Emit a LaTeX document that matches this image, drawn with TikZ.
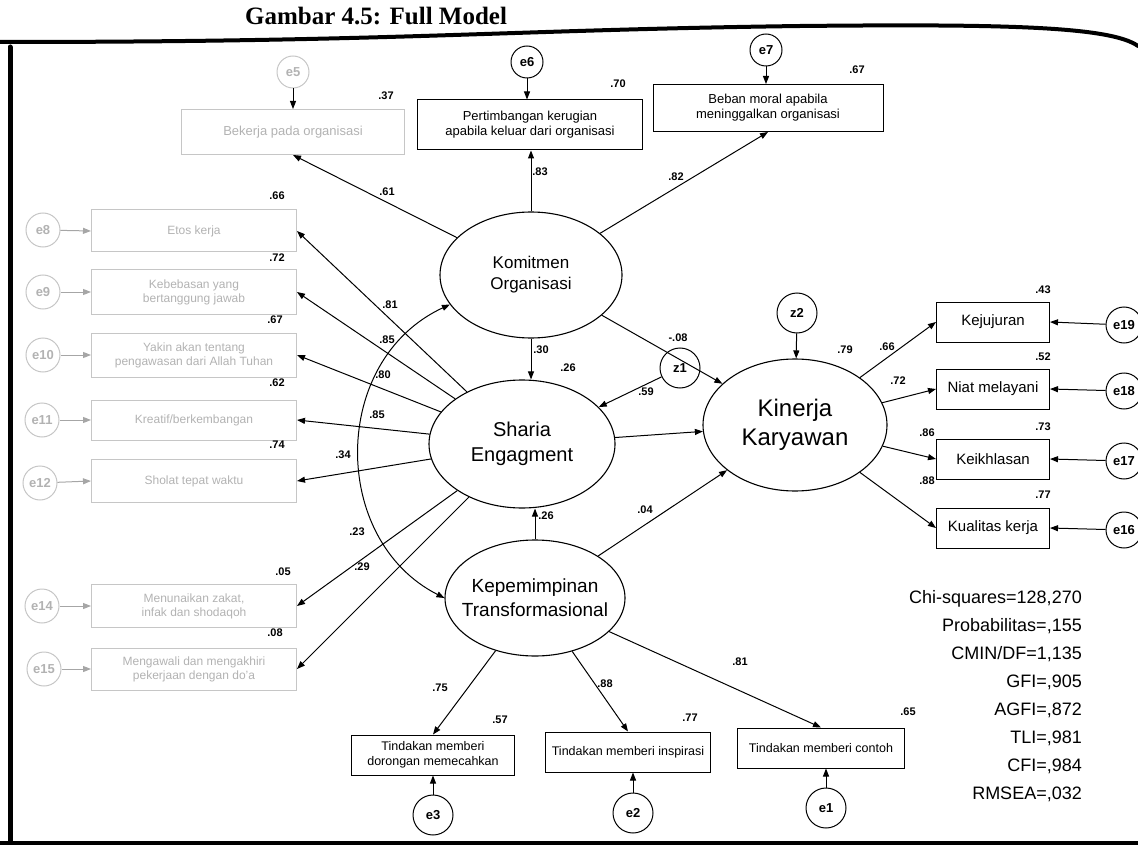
\documentclass[tikz,border=0pt]{standalone}
\usepackage{fontspec}
\setmainfont{Liberation Sans}
\newfontfamily\titlefont{Liberation Serif}
\usetikzlibrary{shapes.geometric,arrows.meta,calc}

\tikzset{
  arr/.style={-{Triangle[length=8pt,width=6pt]}, line width=1pt},
  dbl/.style={{Triangle[length=8pt,width=6pt]}-{Triangle[length=8pt,width=6pt]}, line width=1pt},
  latent/.style={ellipse, draw, line width=1.1pt, inner sep=0pt},
  ltext/.style={align=center, inner sep=0pt},
  obs/.style={rectangle, draw, line width=1pt, align=center, inner sep=2pt},
  faint/.style={draw=gray!45, text=gray!60},
  err/.style={circle, draw, line width=1pt, minimum size=36pt, inner sep=0pt,
              font=\fontsize{13}{13}\selectfont\bfseries},
  val/.style={font=\fontsize{11}{11}\selectfont\bfseries, inner sep=1pt},
  frame/.style={line width=4pt, line cap=round},
}

\begin{document}
\begin{tikzpicture}[x=1pt,y=-1pt]
\useasboundingbox (0,0) rectangle (1138,845);

% page edges and heading
\node[font=\titlefont\bfseries\fontsize{25}{25}\selectfont, anchor=west, inner sep=0pt] (title) at (245,16) {Gambar 4.5: Full Model};
\draw[frame] (0,42) .. controls (400,42) and (500,30) .. (800,26) .. controls (1000,24) and (1110,26) .. (1138,46);
\draw[frame, line width=5pt] (10,47) -- (10,845);
\draw[frame] (0,843) -- (1138,843);

% latent variables
\node[latent, minimum width=182pt, minimum height=126pt] (kom) at (531,275) {};
\node[ltext, font=\fontsize{17}{21}\selectfont] (komT) at (kom) {Komitmen\\Organisasi};
\node[latent, minimum width=186pt, minimum height=128pt] (sh) at (522,444) {};
\node[ltext, font=\fontsize{20}{25}\selectfont] (shT) at (sh) {Sharia\\Engagment};
\node[latent, minimum width=184pt, minimum height=132pt] (kin) at (795,425) {};
\node[ltext, font=\fontsize{24}{29}\selectfont] (kinT) at (kin) {Kinerja\\Karyawan};
\node[latent, minimum width=180pt, minimum height=116pt] (kep) at (535,598) {};
\node[ltext, font=\fontsize{19}{24}\selectfont] (kepT) at (kep) {Kepemimpinan\\Transformasional};

% disturbances
\node[err, minimum size=40pt] (z1) at (680,368) {z1};
\node[err, minimum size=40pt] (z2) at (797,313) {z2};

% indicators of Komitmen Organisasi
\node[obs, faint, minimum width=223pt, minimum height=45pt, font=\fontsize{13}{15}\selectfont] (b5) at (293,132) {Bekerja pada organisasi};
\node[obs, minimum width=225pt, minimum height=50pt, font=\fontsize{13}{15}\selectfont] (b6) at (530,125) {Pertimbangan kerugian\\apabila keluar dari organisasi};
\node[obs, minimum width=230pt, minimum height=47pt, font=\fontsize{13}{15}\selectfont] (b7) at (768,108) {Beban moral apabila\\meninggalkan organisasi};
\node[err, faint, minimum size=32pt] (e5) at (293,72) {e5};
\node[err, minimum size=32pt] (e6) at (527,62) {e6};
\node[err, minimum size=32pt] (e7) at (766,50) {e7};

% indicators of Sharia Engagment
\begin{scope}[every node/.append style={font=\fontsize{12}{14}\selectfont}]
\node[obs, faint, minimum width=205pt, minimum height=42pt] (b8) at (194,231) {Etos kerja};
\node[obs, faint, minimum width=205pt, minimum height=45pt] (b9) at (194,292) {Kebebasan yang\\bertanggung jawab};
\node[obs, faint, minimum width=205pt, minimum height=44pt] (b10) at (194,355) {Yakin akan tentang\\pengawasan dari Allah Tuhan};
\node[obs, faint, minimum width=205pt, minimum height=40pt] (b11) at (194,420) {Kreatif/berkembangan};
\node[obs, faint, minimum width=205pt, minimum height=43pt] (b12) at (194,481) {Sholat tepat waktu};
\node[obs, faint, minimum width=205pt, minimum height=43pt] (b14) at (194,606) {Menunaikan zakat,\\infak dan shodaqoh};
\node[obs, faint, minimum width=205pt, minimum height=42pt] (b15) at (194,669) {Mengawali dan mengakhiri\\pekerjaan dengan do'a};
\end{scope}
\node[err, faint, minimum size=34pt] (e8) at (43,230) {e8};
\node[err, faint, minimum size=34pt] (e9) at (43,292) {e9};
\node[err, faint, minimum size=34pt] (e10) at (43,355) {e10};
\node[err, faint, minimum size=34pt] (e11) at (42,420) {e11};
\node[err, faint, minimum size=34pt] (e12) at (40,483) {e12};
\node[err, faint, minimum size=34pt] (e14) at (42,606) {e14};
\node[err, faint, minimum size=34pt] (e15) at (44,669) {e15};

% indicators of Kinerja Karyawan
\begin{scope}[every node/.append style={font=\fontsize{15}{17}\selectfont}]
\node[obs, minimum width=113pt, minimum height=40pt] (r1) at (993,322) {Kejujuran};
\node[obs, minimum width=113pt, minimum height=40pt] (r2) at (993,389) {Niat melayani};
\node[obs, minimum width=113pt, minimum height=40pt] (r3) at (993,459) {Keikhlasan};
\node[obs, minimum width=113pt, minimum height=40pt] (r4) at (993,528) {Kualitas kerja};
\end{scope}
\node[err] (e19) at (1124,325) {e19};
\node[err] (e18) at (1124,391) {e18};
\node[err] (e17) at (1124,461) {e17};
\node[err] (e16) at (1124,530) {e16};

% indicators of Kepemimpinan Transformasional
\begin{scope}[every node/.append style={font=\fontsize{12.5}{15}\selectfont}]
\node[obs, minimum width=163pt, minimum height=40pt] (t1) at (433,755) {Tindakan memberi\\dorongan memecahkan};
\node[obs, minimum width=165pt, minimum height=40pt] (t2) at (628,752) {Tindakan memberi inspirasi};
\node[obs, minimum width=167pt, minimum height=40pt] (t3) at (821,748) {Tindakan memberi contoh};
\end{scope}
\node[err, minimum size=40pt] (e3) at (433,815) {e3};
\node[err, minimum size=40pt] (e2) at (633,813) {e2};
\node[err, minimum size=40pt] (e1) at (826,808) {e1};

% measurement paths
\draw[arr] (kom) -- (b5.south);
\draw[arr] (kom.north) -- (kom.north |- b6.south);
\draw[arr] (kom) -- (b7.south);
\draw[arr] (e5) -- (b5.north);
\draw[arr] (e6) -- (e6 |- b6.north);
\draw[arr] (e7) -- (e7 |- b7.north);

\foreach \b in {b8,b9,b10,b11,b12,b14,b15} \draw[arr] (sh) -- (\b.east);
\draw[arr, gray!70] (e8) -- (b8.west);
\draw[arr, gray!70] (e9) -- (b9.west);
\draw[arr, gray!70] (e10) -- (b10.west);
\draw[arr, gray!70] (e11) -- (b11.west);
\draw[arr, gray!70] (e12) -- (b12.west);
\draw[arr, gray!70] (e14) -- (b14.west);
\draw[arr, gray!70] (e15) -- (b15.west);

\foreach \b in {r1,r2,r3,r4} \draw[arr] (kin) -- (\b.west);
\draw[arr] (e19) -- (r1.east);
\draw[arr] (e18) -- (r2.east);
\draw[arr] (e17) -- (r3.east);
\draw[arr] (e16) -- (r4.east);

\foreach \b in {t1,t2,t3} \draw[arr] (kep) -- (\b.north);
\draw[arr] (e3) -- (e3 |- t1.south);
\draw[arr] (e2) -- (e2 |- t2.south);
\draw[arr] (e1) -- (e1 |- t3.south);

% structural paths
\draw[arr] (kom.south) -- (kom.south |- sh.north);
\draw[arr] (kom) -- (kin);
\draw[arr] (sh) -- (kin);
\draw[arr] (kep.north) -- (kep.north |- sh.south);
\draw[arr] (kep) -- (kin);
\draw[arr] (z1) -- (sh);
\draw[arr] (z2) -- (kin);
\draw[dbl] (kom.200) .. controls (330,360) and (330,540) .. (kep.west);

% estimates
\node[val] at (386,96) {.37};
\node[val] at (618,84) {.70};
\node[val] at (857,70) {.67};
\node[val] at (387,192) {.61};
\node[val] at (540,172) {.83};
\node[val] at (676,177) {.82};
\node[val] at (277,196) {.66};
\node[val] at (277,258) {.72};
\node[val] at (275,320) {.67};
\node[val] at (277,383) {.62};
\node[val] at (277,445) {.74};
\node[val] at (390,305) {.81};
\node[val] at (387,340) {.85};
\node[val] at (383,375) {.80};
\node[val] at (377,415) {.85};
\node[val] at (343,455) {.34};
\node[val] at (283,572) {.05};
\node[val] at (275,633) {.08};
\node[val] at (357,532) {.23};
\node[val] at (362,567) {.29};
\node[val] at (541,350) {.30};
\node[val] at (568,368) {.26};
\node[val] at (678,338) {-.08};
\node[val] at (646,392) {.59};
\node[val] at (546,516) {.26};
\node[val] at (645,510) {.04};
\node[val] at (845,350) {.79};
\node[val] at (887,347) {.66};
\node[val] at (898,381) {.72};
\node[val] at (927,433) {.86};
\node[val] at (927,481) {.88};
\node[val] at (1043,290) {.43};
\node[val] at (1043,357) {.52};
\node[val] at (1043,427) {.73};
\node[val] at (1043,495) {.77};
\node[val] at (440,688) {.75};
\node[val] at (605,684) {.88};
\node[val] at (740,662) {.81};
\node[val] at (500,720) {.57};
\node[val] at (690,718) {.77};
\node[val] at (908,712) {.65};

% goodness of fit
\node[anchor=north east, align=right, inner sep=0pt, font=\fontsize{18}{28}\selectfont] (fit) at (1082,590)
 {Chi-squares=128,270\\Probabilitas=,155\\CMIN/DF=1,135\\GFI=,905\\AGFI=,872\\TLI=,981\\CFI=,984\\RMSEA=,032};
\end{tikzpicture}
\end{document}
